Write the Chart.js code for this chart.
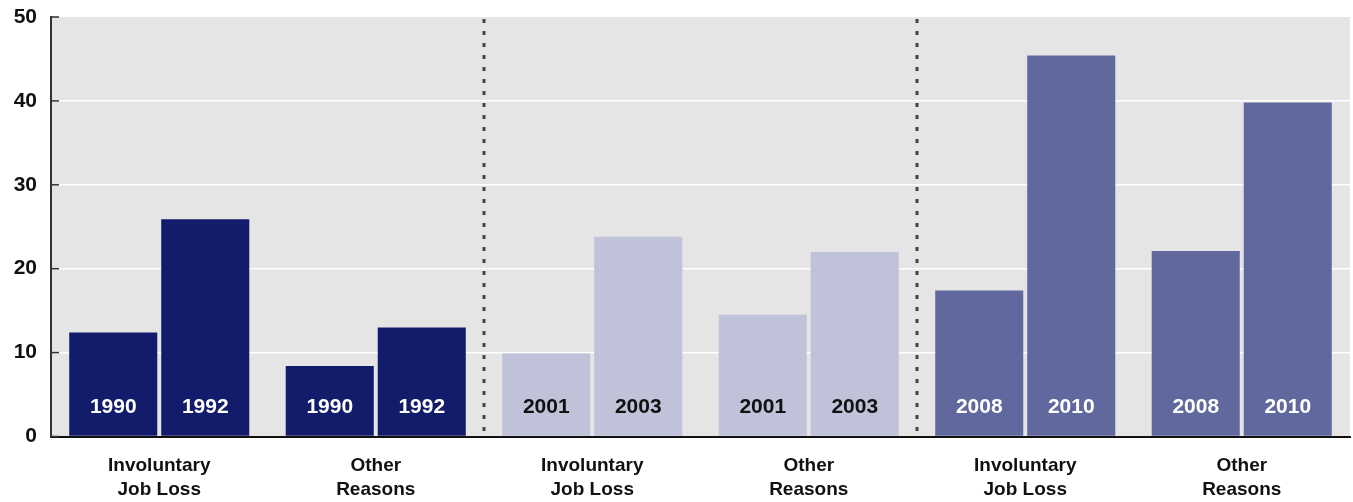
<!DOCTYPE html>
<html>
<head>
<meta charset="utf-8">
<script src="https://cdn.jsdelivr.net/npm/chart.js@4"></script>
<style>
  html, body { margin: 0; padding: 0; background: #fff; }
  #wrap { width: 1353px; height: 502px; position: relative; }
</style>
</head>
<body>
<div id="wrap"><canvas id="barChart"></canvas></div>
<script>
// data
var categories = [
  ['Involuntary', 'Job Loss'], ['Other', 'Reasons'],
  ['Involuntary', 'Job Loss'], ['Other', 'Reasons'],
  ['Involuntary', 'Job Loss'], ['Other', 'Reasons']
];
var firstYear = ['1990', '1990', '2001', '2001', '2008', '2008'];
var secondYear = ['1992', '1992', '2003', '2003', '2010', '2010'];
var firstValues = [12.4, 8.4, 9.9, 14.5, 17.4, 22.1];
var secondValues = [25.9, 13.0, 23.8, 22.0, 45.4, 39.8];
var yTicks = [0, 10, 20, 30, 40, 50];

var barColors = ['#121c6b', '#121c6b', '#c0c2da', '#c0c2da', '#61689e', '#61689e'];
var yearColors = ['#ffffff', '#ffffff', '#111111', '#111111', '#ffffff', '#ffffff'];

Chart.defaults.font.family = "'Liberation Sans', Arial, sans-serif";
Chart.defaults.font.weight = 'bold';
Chart.defaults.color = '#111';

// gray plot area, inward ticks, dotted separators, year labels
var decorPlugin = {
  id: 'decor',
  beforeDraw: function(chart) {
    var ctx = chart.ctx, a = chart.chartArea;
    ctx.save();
    ctx.fillStyle = '#e5e5e5';
    ctx.fillRect(a.left, a.top, a.right - a.left, a.bottom - a.top);
    ctx.restore();
  },
  afterDatasetsDraw: function(chart) {
    var ctx = chart.ctx, a = chart.chartArea;
    var xs = chart.scales.x, ys = chart.scales.y;
    ctx.save();
    // separators between periods
    ctx.strokeStyle = '#444';
    ctx.lineWidth = 3;
    ctx.setLineDash([4, 8]);
    [1.5, 3.5].forEach(function(v) {
      var px = Math.round((xs.getPixelForValue(Math.floor(v)) + xs.getPixelForValue(Math.ceil(v))) / 2);
      ctx.beginPath();
      ctx.moveTo(px, a.top + 2);
      ctx.lineTo(px, a.bottom - 4);
      ctx.stroke();
    });
    ctx.setLineDash([]);
    // tick marks pointing into the plot
    ctx.strokeStyle = '#333';
    ctx.lineWidth = 1.5;
    yTicks.forEach(function(t) {
      var py = ys.getPixelForValue(t);
      ctx.beginPath();
      ctx.moveTo(a.left, py);
      ctx.lineTo(a.left + 8, py);
      ctx.stroke();
    });
    // year labels inside bars
    ctx.font = "bold 21px 'Liberation Sans', Arial, sans-serif";
    ctx.textAlign = 'center';
    ctx.textBaseline = 'middle';
    chart.data.datasets.forEach(function(ds, di) {
      chart.getDatasetMeta(di).data.forEach(function(bar, i) {
        var p = bar.getProps(['x', 'base'], true);
        ctx.fillStyle = yearColors[i];
        ctx.fillText(ds.years[i], p.x, p.base - 29);
      });
    });
    ctx.restore();
  }
};

var ctx = document.getElementById('barChart').getContext('2d');
var barChart = new Chart(ctx, {
  type: 'bar',
  data: {
    labels: categories,
    datasets: [{
      label: 'first year',
      data: firstValues,
      years: firstYear,
      backgroundColor: barColors,
      categoryPercentage: 0.85,
      barPercentage: 0.957
    }, {
      label: 'second year',
      data: secondValues,
      years: secondYear,
      backgroundColor: barColors,
      categoryPercentage: 0.85,
      barPercentage: 0.957
    }]
  },
  options: {
    responsive: true,
    maintainAspectRatio: false,
    animation: false,
    layout: { padding: { top: 17, right: 3, left: 0, bottom: 0 } },
    plugins: {
      legend: { display: false },
      tooltip: { enabled: false }
    },
    scales: {
      x: {
        grid: { display: false },
        border: { color: '#111', width: 2 },
        ticks: { font: { size: 19, weight: 'bold', lineHeight: 1.26 }, color: '#111', padding: 9, maxRotation: 0 },
        afterFit: function(scale) { scale.height = 65.5; }
      },
      y: {
        min: 0,
        max: 50,
        afterBuildTicks: function(scale) {
          scale.ticks = yTicks.map(function(v) { return { value: v }; });
        },
        grid: {
          drawTicks: false,
          lineWidth: 1.5,
          color: function(c) {
            return (c.tick && (c.tick.value === 0 || c.tick.value === 50)) ? 'rgba(0,0,0,0)' : '#ffffff';
          }
        },
        border: { color: '#333', width: 2 },
        ticks: { font: { size: 21, weight: 'bold' }, color: '#111', padding: 14 },
        afterFit: function(scale) {
          scale.width = 51;
          scale.paddingTop = 8;
          scale.paddingBottom = 8;
        }
      }
    }
  },
  plugins: [decorPlugin]
});
</script>
</body>
</html>
